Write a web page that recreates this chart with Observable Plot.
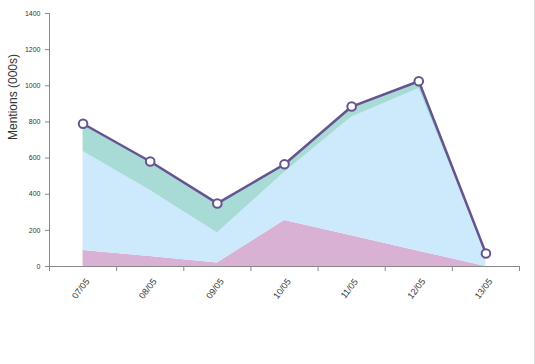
<!DOCTYPE html>
<html>
<head>
<meta charset="utf-8">
<script src="https://cdn.jsdelivr.net/npm/d3@7"></script>
<script src="https://cdn.jsdelivr.net/npm/@observablehq/plot@0.6"></script>
<style>
  html, body { margin: 0; padding: 0; background: #fff; }
  #wrap { width: 535px; height: 364px; box-sizing: border-box; border-right: 1px solid #ddd; overflow: hidden; }
  svg { font-family: Arial, "Liberation Sans", sans-serif; }
</style>
</head>
<body>
<div id="wrap"></div>
<script>
const dates = ["07/05", "08/05", "09/05", "10/05", "11/05", "12/05", "13/05"];
const totals = [790, 581, 349, 566, 885, 1025, 72];
const seriesNames = ["Series A", "Series B", "Series C"];
const seriesAValues = [88, 55, 20, 254, 170, 85, 0];
const seriesBValues = [548, 365, 166, 266, 656, 898, 72];
const seriesCValues = [154, 161, 163, 46, 59, 42, 0];
const seriesColors = ["#d9b1d5", "#cdeafc", "#a8dbd5"];
const yTicks = [0, 200, 400, 600, 800, 1000, 1200, 1400];
const lineColor = "#65548f";

const stacked = [];
[seriesAValues, seriesBValues, seriesCValues].forEach((vals, s) => {
  vals.forEach((v, i) => stacked.push({i, date: dates[i], series: seriesNames[s], value: v}));
});
const lineData = totals.map((v, i) => ({i, date: dates[i], value: v}));
const bandEdges = d3.range(-0.5, dates.length);

const chart = Plot.plot({
  width: 534,
  height: 364,
  marginLeft: 49,
  marginRight: 15,
  marginTop: 13,
  marginBottom: 98,
  style: {fontFamily: "Arial, 'Liberation Sans', sans-serif", background: "transparent"},
  x: {type: "linear", domain: [-0.5, dates.length - 0.5]},
  y: {domain: [0, 1400]},
  color: {type: "ordinal", domain: seriesNames, range: seriesColors},
  marks: [
    Plot.areaY(stacked, {x: "i", y: "value", fill: "series", order: seriesNames, curve: "linear"}),
    Plot.line(lineData, {x: "i", y: "value", stroke: lineColor, strokeWidth: 2.5}),
    Plot.dot(lineData, {x: "i", y: "value", r: 4.3, fill: "white", stroke: lineColor, strokeWidth: 2}),
    Plot.frame({anchor: "left", stroke: "#888"}),
    Plot.frame({anchor: "bottom", stroke: "#888"}),
    Plot.axisY({ticks: yTicks, tickFormat: d => String(d), tickSize: 4, tickPadding: 5, fontSize: 7, color: "#333", stroke: "#888", label: null}),
    Plot.axisX({ticks: bandEdges, tickSize: 5, tickFormat: () => "", stroke: "#888", label: null}),
    Plot.text(dates, {x: (d, i) => i, text: d => d, frameAnchor: "bottom", dy: 24, rotate: -52, fontSize: 9, fill: "#333"}),
    Plot.text(["Mentions (000s)"], {frameAnchor: "left", dx: -36, rotate: -90, fontSize: 12, fill: "#333"})
  ]
});
document.getElementById("wrap").appendChild(chart);
</script>
</body>
</html>
